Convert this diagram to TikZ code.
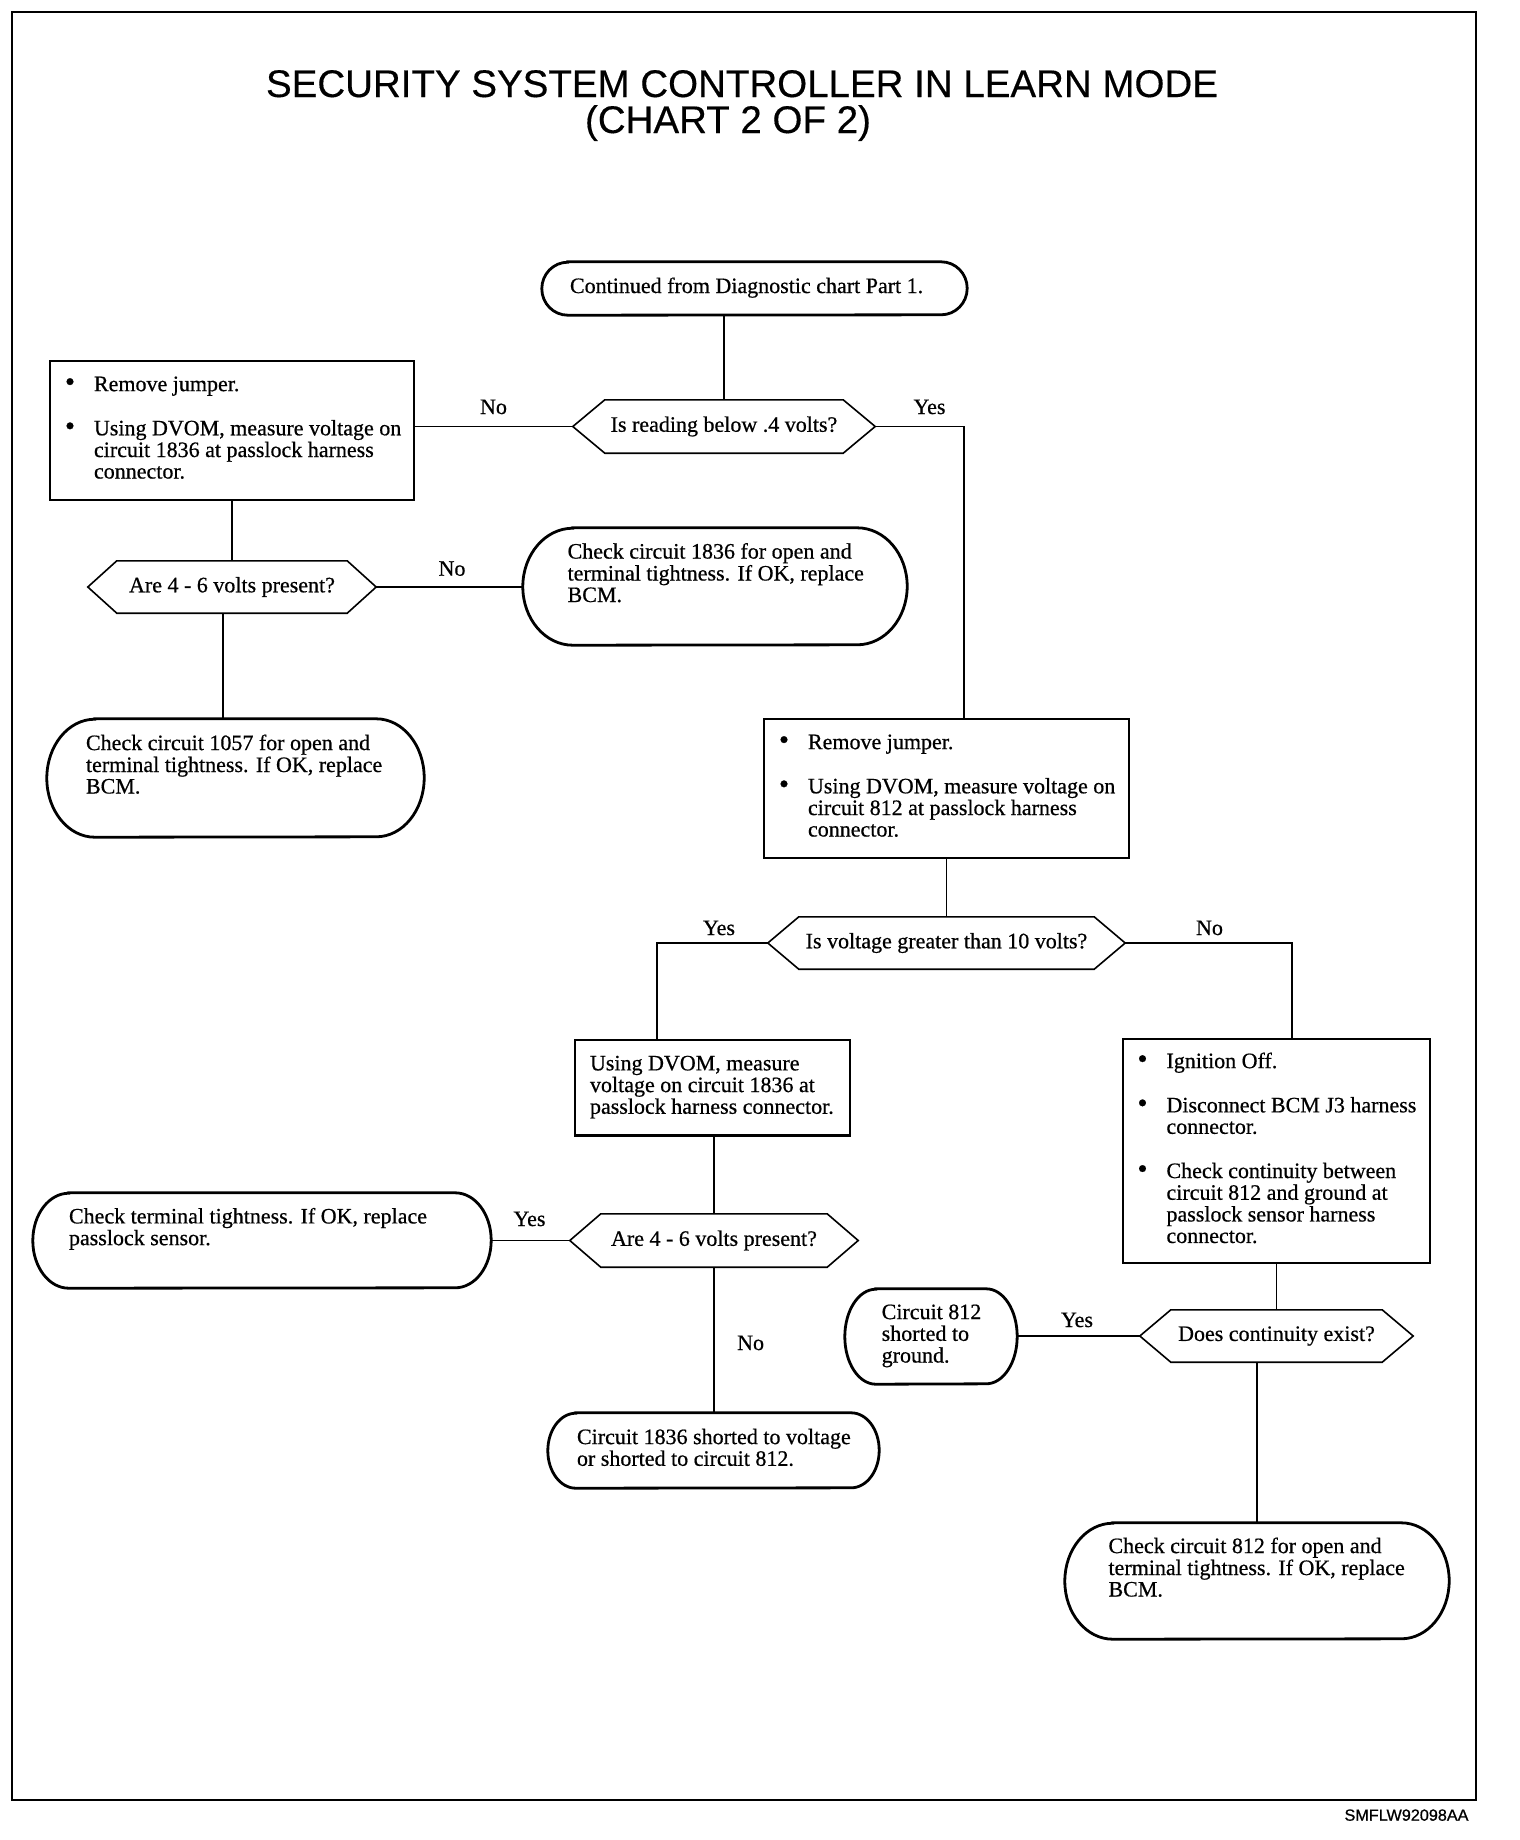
\documentclass[tikz,border=0pt]{standalone}
\usepackage{fontspec}
\setmainfont{Liberation Serif}[RawFeature={embolden=0.6}]
\newfontfamily\titlefont{Liberation Sans}[RawFeature={embolden=0.4}]
\newfontfamily\footfont{Liberation Sans}[RawFeature={embolden=0.8}]
\newcommand\bodyfnt{\fontsize{22pt}{21.5pt}\selectfont}
\newcommand\tb[2]{\makebox[#1][l]{\begin{tabular}{@{}l@{}}#2\end{tabular}}}
\newcommand\bl[2]{\makebox[#1][l]{\begin{tabular}{@{}l@{}l@{}}#2\end{tabular}}}
\newcommand\bu{\makebox[29pt][l]{\scalebox{1.3}{\textbullet}}}
\newcommand\hexo[2]{\draw[hexline] (#1.west) -- ([xshift=#2]#1.north west) -- ([xshift=-#2]#1.north east) -- (#1.east) -- ([xshift=-#2]#1.south east) -- ([xshift=#2]#1.south west) -- cycle;}
\newcommand\stadium[3]{\draw[stadline] ([xshift=#2]#1.north west) -- ([xshift=-#2]#1.north east)
   arc[start angle=90,end angle=-90,x radius=#2,y radius=#3]
   -- ([xshift=#2]#1.south west)
   arc[start angle=270,end angle=90,x radius=#2,y radius=#3] -- cycle;}
\begin{document}
\begin{tikzpicture}[x=1pt,y=-1pt,
  every node/.style={inner sep=0pt, font=\bodyfnt},
  rbox/.style={draw, line width=2.5pt, rectangle},
  stad/.style={rectangle},
  hexn/.style={rectangle},
  conn/.style={line width=1.6pt},
  hexline/.style={line width=1.6pt, line join=miter},
  stadline/.style={line width=2.8pt},
  lab/.style={anchor=base}]

\useasboundingbox (0,0) rectangle (1520,1840);
\fill[white] (0,0) rectangle (1520,1840);
\draw[line width=1.8pt] (12,12) rectangle (1476,1800);

% titles
\node[anchor=base, font=\titlefont\fontsize{38.5pt}{42pt}\selectfont] (title1) at (742,97) {SECURITY SYSTEM CONTROLLER IN LEARN MODE};
\node[anchor=base, font=\titlefont\fontsize{38.5pt}{42pt}\selectfont] (title2) at (728,133) {(CHART 2 OF 2)};
\node[anchor=base, font=\footfont\fontsize{16.2pt}{18pt}\selectfont] (code) at (1406.5,1820.7) {SMFLW92098AA};

% start
\node[stad, minimum width=425pt, minimum height=53pt] (start) at (754.5,288.5) {\tb{369pt}{Continued from Diagnostic chart Part 1.}};
\stadium{start}{26pt}{26.5pt}

% decisions
\node[hexn, minimum width=302pt, minimum height=53pt] (d1) at (724,426.5) {Is reading below .4 volts?};
\hexo{d1}{32pt}
\node[hexn, minimum width=357pt, minimum height=52pt] (d2) at (946.5,943) {Is voltage greater than 10 volts?};
\hexo{d2}{31pt}
\node[hexn, minimum width=288pt, minimum height=53pt] (d3) at (714,1240.5) {Are 4 - 6 volts present?};
\hexo{d3}{31pt}
\node[hexn, minimum width=273pt, minimum height=52pt] (d4) at (1276.5,1336) {Does continuity exist?};
\hexo{d4}{31pt}
\node[hexn, minimum width=288pt, minimum height=52pt] (d5) at (232,587) {Are 4 - 6 volts present?};
\hexo{d5}{29pt}

% process boxes
\node[rbox, minimum width=364pt, minimum height=139pt] (b1) at (232,430.5)
  {\bl{334pt}{\bu & Remove jumper.\\[22.5pt] \bu & Using DVOM, measure voltage on\\ & circuit 1836 at passlock harness\\ & connector.}};
\node[rbox, minimum width=365pt, minimum height=139pt] (b2) at (946.5,788.5)
  {\bl{335pt}{\bu & Remove jumper.\\[22.5pt] \bu & Using DVOM, measure voltage on\\ & circuit 812 at passlock harness\\ & connector.}};
\node[rbox, minimum width=275pt, minimum height=95.5pt] (b3) at (712.5,1087.75)
  {\tb{245pt}{Using DVOM, measure\\ voltage on circuit 1836 at\\ passlock harness connector.}};
\node[rbox, minimum width=307pt, minimum height=224pt] (b4) at (1276.5,1151)
  {\bl{278pt}{\bu & Ignition Off.\\[22.5pt] \bu & Disconnect BCM J3 harness\\ & connector.\\[22.5pt] \bu & Check continuity between\\ & circuit 812 and ground at\\ & passlock sensor harness\\ & connector.}};

% terminal (rounded) boxes
\node[stad, minimum width=384pt, minimum height=117pt] (b9) at (715,586.5)
  {\tb{294.8pt}{Check circuit 1836 for open and\\ terminal tightness. If OK, replace\\ BCM.\\ \mbox{}}};
\stadium{b9}{50pt}{58.5pt}
\node[stad, minimum width=377pt, minimum height=118pt] (b10) at (235.5,778)
  {\tb{299pt}{Check circuit 1057 for open and\\ terminal tightness. If OK, replace\\ BCM.\\ \mbox{}}};
\stadium{b10}{48pt}{59pt}
\node[stad, minimum width=458pt, minimum height=95pt] (b5) at (262,1240.5)
  {\tb{386pt}{Check terminal tightness. If OK, replace\\ passlock sensor.\\ \mbox{}}};
\stadium{b5}{36pt}{47.5pt}
\node[stad, minimum width=331pt, minimum height=75pt] (b6) at (713.5,1450.5)
  {\tb{273pt}{Circuit 1836 shorted to voltage\\ or shorted to circuit 812.}};
\stadium{b6}{28pt}{37.5pt}
\node[stad, minimum width=172pt, minimum height=95pt] (b7) at (931,1336.5)
  {\tb{98.6pt}{Circuit 812\\ shorted to\\ ground.}};
\stadium{b7}{31pt}{47.5pt}
\node[stad, minimum width=384pt, minimum height=116pt] (b8) at (1257,1581)
  {\tb{297pt}{Check circuit 812 for open and\\ terminal tightness. If OK, replace\\ BCM.\\ \mbox{}}};
\stadium{b8}{48pt}{58pt}

% connectors
\draw[conn] (d1.north) -- (d1.north |- start.south);
\draw[conn] (d1.west) -- (d1.west -| b1.east);
\draw[conn] (d1.east) -| ([xshift=17.5pt]b2.north);
\draw[conn] (b2.south) -- (d2.north);
\draw[conn] (d2.west) -| ([xshift=-55.5pt]b3.north);
\draw[conn] (d2.east) -| ([xshift=15.5pt]b4.north);
\draw[conn] (d3.north) -- (d3.north |- b3.south);
\draw[conn] (d3.west) -- (d3.west -| b5.east);
\draw[conn] (d3.south) -- (d3.south |- b6.north);
\draw[conn] (b4.south) -- (d4.north);
\draw[conn] (d4.west) -- (d4.west -| b7.east);
\draw[conn] (b8.north) -- (b8.north |- d4.south);
\draw[conn] (b1.south) -- (d5.north);
\draw[conn] (d5.east) -- (d5.east -| b9.west);
\draw[conn] ([xshift=-9pt]d5.south) -- ([xshift=-9pt]d5.south |- b10.north);

% labels
\node[lab] (ln1) at (493.5,414) {No};
\node[lab] (ly1) at (929.5,414) {Yes};
\node[lab] (ln5) at (452,575.7) {No};
\node[lab] (ly2) at (719,935) {Yes};
\node[lab] (ln2) at (1209.5,935) {No};
\node[lab] (ly3) at (529.5,1226) {Yes};
\node[lab] (ln3) at (750.6,1350) {No};
\node[lab] (ly4) at (1077,1327) {Yes};
\end{tikzpicture}
\end{document}
